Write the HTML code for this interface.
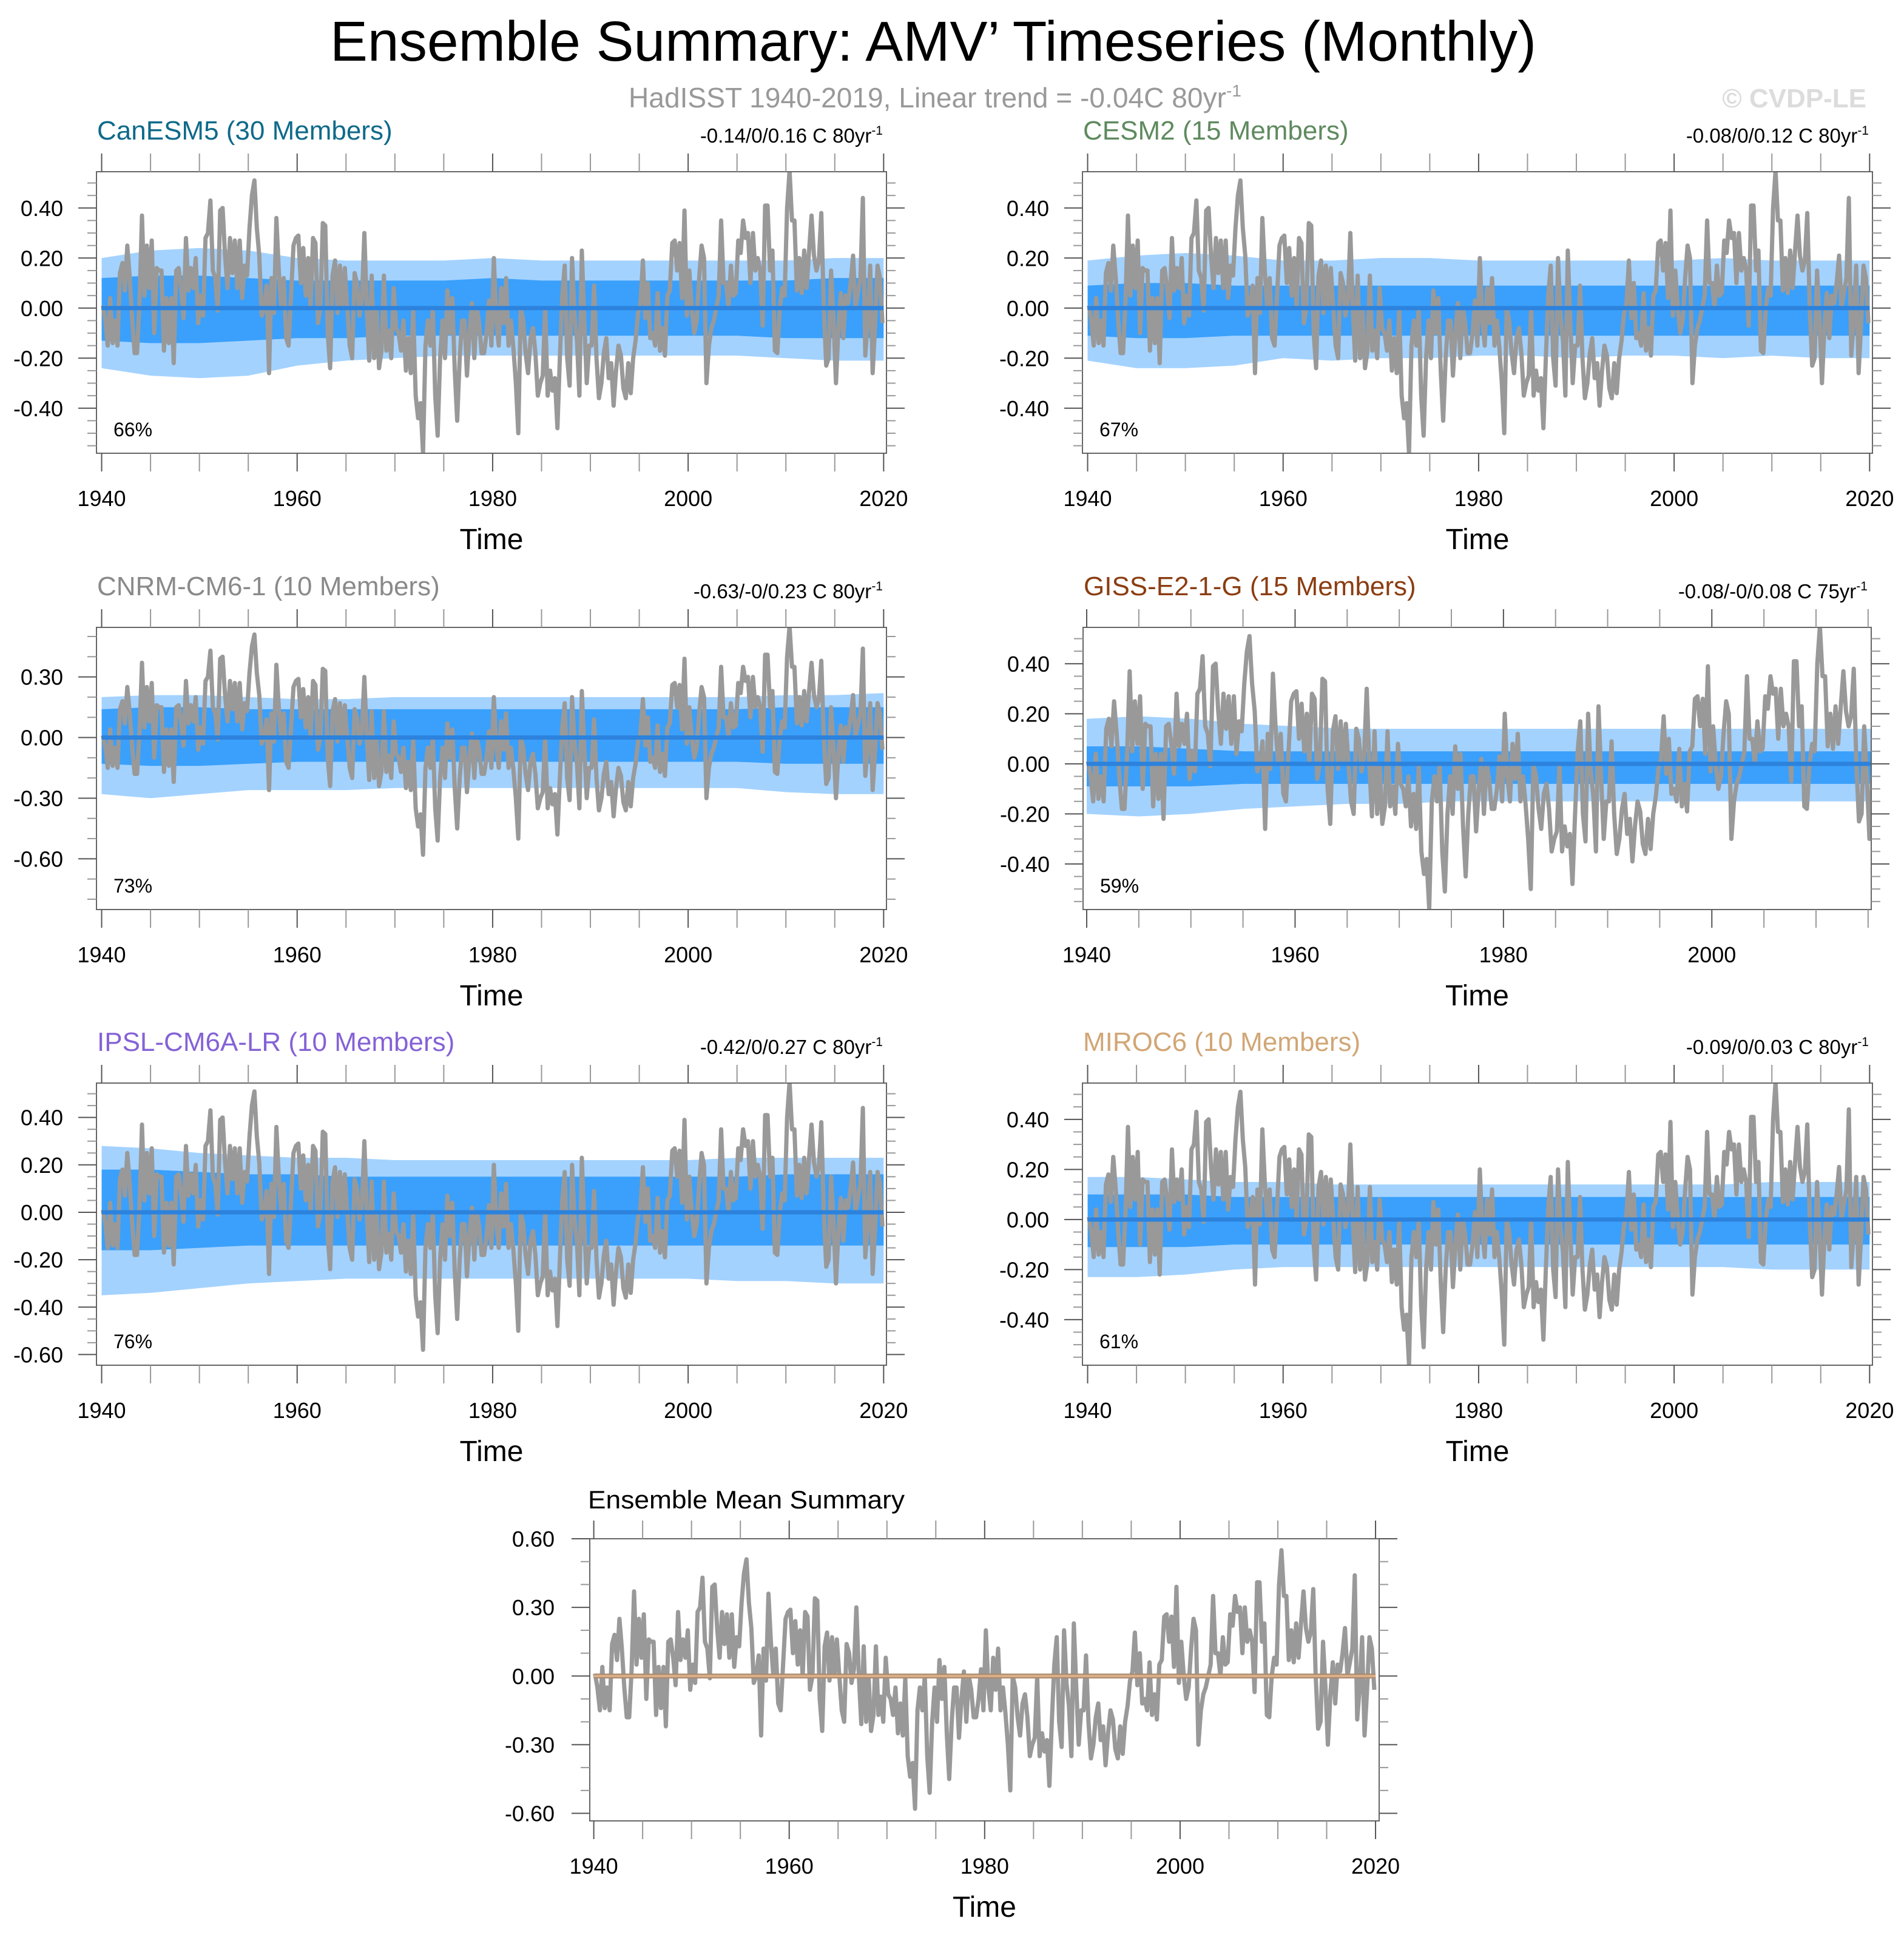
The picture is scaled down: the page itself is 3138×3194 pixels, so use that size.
<!DOCTYPE html>
<html><head><meta charset="utf-8"><title>Ensemble Summary: AMV’ Timeseries (Monthly)</title>
<style>html,body{margin:0;padding:0;background:#fff;}svg{display:block;font-family:"Liberation Sans",sans-serif;}</style>
</head><body>
<svg id="chart" xmlns="http://www.w3.org/2000/svg" width="3138" height="3194" viewBox="0 0 3138 3194">
<rect x="0" y="0" width="3138" height="3194" fill="#fff"/>
<text x="1538" y="100" font-size="93" text-anchor="middle" textLength="1988" lengthAdjust="spacingAndGlyphs">Ensemble Summary: AMV’ Timeseries (Monthly)</text>
<text x="1036" y="177" font-size="46" fill="#999"><tspan textLength="985" lengthAdjust="spacingAndGlyphs">HadISST 1940-2019, Linear trend = -0.04C 80yr</tspan><tspan dy="-18" font-size="28">-1</tspan></text>
<text x="3076" y="177" font-size="44" font-weight="bold" fill="#dcdcdc" text-anchor="end">© CVDP-LE</text>
</svg>
<script>
// ---- data ----
const yearTicks = [1940, 1960, 1980, 2000, 2020];
const bandYears = [1940,1945,1950,1955,1960,1965,1970,1975,1980,1985,1990,1995,2000,2005,2010,2015,2020];
// HadISST AMV monthly (read quarterly), starting 1940
const hadValues = [
0.01,-0.05,-0.15,0.04, -0.14,-0.05,-0.15,0.14, 0.18,0.07,0.25,0.12, -0.05,-0.18,-0.18,0.03,
0.37,0.05,0.25,0.08, 0.27,-0.10,0.16,0.15, 0.15,-0.17,0.04,-0.14, 0.04,-0.22,0.15,0.16,
0.08,-0.04,0.28,0.07, 0.16,0.08,0.20,-0.06, 0.05,-0.03,0.28,0.30, 0.43,0.15,0.12,-0.01,
0.39,0.40,0.21,0.08, 0.28,0.14,0.27,0.08, 0.27,0.04,0.17,0.13, 0.32,0.45,0.51,0.32,
0.21,-0.03,0.00,0.09, -0.26,0.12,-0.02,0.36, 0.15,0.00,0.12,-0.12, -0.15,0.05,0.25,0.28,
0.29,0.10,0.24,0.05, 0.20,0.00,0.28,0.26, -0.06,0.00,0.34,0.33, -0.10,-0.24,0.13,0.19,
-0.02,0.17,0.00,0.16, 0.00,-0.15,-0.20,0.14, 0.10,-0.03,0.03,0.30, 0.00,-0.21,0.13,-0.20,
0.00,-0.24,-0.17,0.13, -0.17,-0.09,-0.20,0.08, -0.08,-0.10,-0.17,-0.05, -0.25,-0.12,-0.26,-0.01,
-0.35,-0.44,-0.38,-0.58, -0.15,-0.05,-0.15,0.00, -0.35,-0.51,-0.20,-0.05, -0.20,0.07,-0.10,0.04,
-0.25,-0.45,-0.20,-0.05, -0.05,-0.27,-0.10,0.02, -0.20,0.00,-0.06,-0.18, -0.18,-0.10,0.03,-0.15,
0.20,-0.05,-0.15,0.08, -0.06,0.12,-0.15,-0.05, -0.16,-0.30,-0.50,0.00, -0.05,-0.18,-0.26,-0.12,
-0.08,-0.18,-0.35,-0.30, -0.27,0.00,-0.35,-0.25, -0.33,-0.28,-0.48,-0.20, 0.05,0.17,-0.20,-0.31,
0.20,-0.03,-0.13,-0.35, 0.23,-0.05,-0.30,-0.15, -0.15,0.09,-0.20,-0.36, -0.30,-0.18,-0.12,-0.28,
-0.22,-0.39,-0.25,-0.15, -0.19,-0.32,-0.36,-0.22, -0.34,-0.20,-0.13,-0.02, 0.02,0.19,-0.04,0.10,
-0.12,-0.10,-0.15,0.06, -0.17,-0.08,-0.19,0.05, 0.07,0.26,0.27,0.15, 0.26,0.04,0.39,-0.03,
0.15,0.00,-0.10,-0.05, 0.12,0.25,0.20,-0.30, -0.15,-0.08,-0.05,0.00, 0.05,0.35,0.10,0.10,
0.00,0.17,0.05,0.06, 0.27,0.22,0.35,0.28, 0.30,0.10,0.30,0.15, 0.20,0.15,-0.07,0.41,
0.41,0.15,0.23,-0.17, -0.18,0.00,0.08,0.05, 0.40,0.55,0.35,0.35, 0.07,0.20,0.06,0.23,
0.08,0.23,0.37,0.21, 0.15,0.19,0.38,0.00, -0.23,-0.20,0.15,-0.05, -0.30,-0.08,0.06,-0.12,
0.05,0.02,0.10,0.21, 0.00,0.06,0.12,0.44, -0.19,-0.05,0.17,-0.26, -0.07,0.17,0.12,-0.06];

// ensemble spread bands (5-year resolution)
const canLightHi = [0.20,0.23,0.24,0.23,0.20,0.19,0.19,0.19,0.20,0.19,0.19,0.19,0.19,0.19,0.19,0.20,0.20];
const canLightLo = [-0.24,-0.27,-0.28,-0.27,-0.23,-0.21,-0.20,-0.19,-0.19,-0.19,-0.19,-0.19,-0.19,-0.19,-0.20,-0.21,-0.21];
const canDarkHi = [0.12,0.13,0.13,0.12,0.11,0.11,0.11,0.11,0.12,0.11,0.11,0.11,0.11,0.11,0.11,0.12,0.12];
const canDarkLo = [-0.13,-0.14,-0.14,-0.13,-0.12,-0.12,-0.11,-0.11,-0.11,-0.11,-0.11,-0.11,-0.11,-0.11,-0.12,-0.12,-0.12];
const cesLightHi = [0.19,0.21,0.22,0.21,0.19,0.19,0.20,0.20,0.19,0.19,0.19,0.19,0.19,0.20,0.19,0.19,0.19];
const cesLightLo = [-0.21,-0.24,-0.24,-0.23,-0.20,-0.21,-0.20,-0.20,-0.19,-0.19,-0.20,-0.19,-0.19,-0.20,-0.19,-0.20,-0.20];
const cesDarkHi = [0.09,0.10,0.10,0.09,0.09,0.09,0.09,0.09,0.09,0.09,0.09,0.09,0.09,0.09,0.09,0.09,0.09];
const cesDarkLo = [-0.11,-0.12,-0.12,-0.11,-0.11,-0.11,-0.11,-0.11,-0.11,-0.11,-0.11,-0.11,-0.11,-0.11,-0.11,-0.11,-0.11];
const cnrmLightHi = [0.20,0.21,0.21,0.20,0.19,0.19,0.20,0.20,0.20,0.20,0.20,0.20,0.20,0.20,0.21,0.21,0.22];
const cnrmLightLo = [-0.28,-0.30,-0.28,-0.26,-0.26,-0.26,-0.25,-0.25,-0.25,-0.25,-0.25,-0.25,-0.25,-0.25,-0.27,-0.28,-0.28];
const cnrmDarkHi = [0.14,0.15,0.15,0.14,0.14,0.14,0.14,0.14,0.14,0.14,0.14,0.14,0.14,0.14,0.15,0.15,0.15];
const cnrmDarkLo = [-0.13,-0.14,-0.14,-0.13,-0.12,-0.12,-0.12,-0.12,-0.12,-0.12,-0.12,-0.12,-0.12,-0.12,-0.13,-0.13,-0.13];
const gissLightHi = [0.18,0.19,0.18,0.16,0.15,0.14,0.14,0.14,0.14,0.14,0.14,0.14,0.14,0.14,0.14,0.14,0.14];
const gissLightLo = [-0.20,-0.21,-0.20,-0.18,-0.17,-0.16,-0.16,-0.15,-0.15,-0.15,-0.15,-0.15,-0.15,-0.15,-0.15,-0.15,-0.15];
const gissDarkHi = [0.07,0.07,0.06,0.05,0.05,0.05,0.05,0.05,0.05,0.05,0.05,0.05,0.05,0.05,0.05,0.05,0.05];
const gissDarkLo = [-0.09,-0.09,-0.09,-0.08,-0.08,-0.08,-0.08,-0.08,-0.08,-0.08,-0.08,-0.08,-0.08,-0.08,-0.08,-0.08,-0.08];
const ipslLightHi = [0.28,0.27,0.25,0.24,0.23,0.23,0.22,0.22,0.22,0.22,0.22,0.22,0.22,0.23,0.23,0.23,0.23];
const ipslLightLo = [-0.35,-0.34,-0.32,-0.30,-0.29,-0.28,-0.28,-0.28,-0.28,-0.28,-0.28,-0.28,-0.28,-0.29,-0.29,-0.30,-0.30];
const ipslDarkHi = [0.18,0.18,0.17,0.16,0.16,0.15,0.15,0.15,0.15,0.15,0.15,0.15,0.15,0.15,0.16,0.16,0.16];
const ipslDarkLo = [-0.16,-0.16,-0.15,-0.14,-0.14,-0.14,-0.14,-0.14,-0.14,-0.14,-0.14,-0.14,-0.14,-0.14,-0.14,-0.14,-0.14];
const mirLightHi = [0.17,0.17,0.16,0.15,0.15,0.14,0.14,0.14,0.14,0.14,0.14,0.14,0.14,0.14,0.15,0.15,0.15];
const mirLightLo = [-0.23,-0.23,-0.22,-0.20,-0.19,-0.19,-0.19,-0.19,-0.19,-0.19,-0.19,-0.19,-0.19,-0.19,-0.20,-0.20,-0.20];
const mirDarkHi = [0.10,0.10,0.10,0.09,0.09,0.09,0.09,0.09,0.09,0.09,0.09,0.09,0.09,0.09,0.09,0.09,0.09];
const mirDarkLo = [-0.11,-0.11,-0.11,-0.10,-0.10,-0.10,-0.10,-0.10,-0.10,-0.10,-0.10,-0.10,-0.10,-0.10,-0.10,-0.10,-0.10];

const yTicks02 = [0.4, 0.2, 0, -0.2, -0.4];
const yTicksCnrm = [0.3, 0, -0.3, -0.6];
const yTicksIpsl = [0.4, 0.2, 0, -0.2, -0.4, -0.6];
const yTicksMean = [0.6, 0.3, 0, -0.3, -0.6];
const panelTitles = ["CanESM5 (30 Members)","CESM2 (15 Members)","CNRM-CM6-1 (10 Members)","GISS-E2-1-G (15 Members)","IPSL-CM6A-LR (10 Members)","MIROC6 (10 Members)"];
const trendTexts = ["-0.14/0/0.16 C 80yr","-0.08/0/0.12 C 80yr","-0.63/-0/0.23 C 80yr","-0.08/-0/0.08 C 75yr","-0.42/0/0.27 C 80yr","-0.09/0/0.03 C 80yr"];
const pctTexts = ["66%","67%","73%","59%","76%","61%"];

// ---- drawing ----
const NS = "http://www.w3.org/2000/svg";
const svg = document.getElementById('chart');
function mk(tag, parent, attrs) {
  const e = document.createElementNS(NS, tag);
  for (const k in attrs) e.setAttribute(k, attrs[k]);
  parent.appendChild(e);
  return e;
}
const defs = mk('defs', svg, {});

const panels = [
  {id:'canesm5', x0:159, y0:283, w:1302, h:464, xmin:1939.47, xmax:2020.29, ymin:-0.58, ymax:0.545, yt:yTicks02, minor:0.05, color:'#0f6a8a', bands:[canLightHi,canLightLo,canDarkHi,canDarkLo]},
  {id:'cesm2', x0:1784, y0:283, w:1302, h:464, xmin:1939.47, xmax:2020.29, ymin:-0.58, ymax:0.545, yt:yTicks02, minor:0.05, color:'#5f8a5f', bands:[cesLightHi,cesLightLo,cesDarkHi,cesDarkLo]},
  {id:'cnrm-cm6-1', x0:159, y0:1034, w:1302, h:465, xmin:1939.47, xmax:2020.29, ymin:-0.851, ymax:0.545, yt:yTicksCnrm, minor:0.1, color:'#8a8a8a', bands:[cnrmLightHi,cnrmLightLo,cnrmDarkHi,cnrmDarkLo]},
  {id:'giss-e2-1-g', x0:1785, y0:1034, w:1299, h:465, xmin:1939.65, xmax:2015.3, ymin:-0.582, ymax:0.545, yt:yTicks02, minor:0.05, color:'#8b3d12', bands:[gissLightHi,gissLightLo,gissDarkHi,gissDarkLo]},
  {id:'ipsl-cm6a-lr', x0:159, y0:1785, w:1302, h:465, xmin:1939.47, xmax:2020.29, ymin:-0.645, ymax:0.545, yt:yTicksIpsl, minor:0.05, color:'#8562d6', bands:[ipslLightHi,ipslLightLo,ipslDarkHi,ipslDarkLo]},
  {id:'miroc6', x0:1784, y0:1785, w:1302, h:465, xmin:1939.47, xmax:2020.29, ymin:-0.582, ymax:0.545, yt:yTicks02, minor:0.05, color:'#d1a676', bands:[mirLightHi,mirLightLo,mirDarkHi,mirDarkLo]},
  {id:'ensemble-mean', x0:972, y0:2536, w:1301, h:465, xmin:1939.59, xmax:2020.37, ymin:-0.633, ymax:0.6, yt:yTicksMean, minor:0.1, mean:true}
];

panels.forEach((p, idx) => {
  const g = mk('g', svg, {});
  
  
  const sx = t => p.x0 + (t - p.xmin) / (p.xmax - p.xmin) * p.w;
  const sy = v => p.y0 + (p.ymax - v) / (p.ymax - p.ymin) * p.h;
  const x1 = p.x0 + p.w, y1 = p.y0 + p.h;

  const cp = mk('clipPath', defs, {id: 'clip' + idx});
  mk('rect', cp, {x:p.x0, y:p.y0, width:p.w, height:p.h});
  const plot = mk('g', g, {'clip-path': 'url(#clip' + idx + ')'});
  
  

  if (!p.mean) {
    const [lh, ll, dh, dl] = p.bands;
    const bandPts = (hi, lo) => {
      const a = [];
      bandYears.forEach((yr, i) => a.push(sx(yr).toFixed(1) + ',' + sy(hi[i]).toFixed(1)));
      for (let i = bandYears.length - 1; i >= 0; i--) a.push(sx(bandYears[i]).toFixed(1) + ',' + sy(lo[i]).toFixed(1));
      return a.join(' ');
    };
    const light = mk('polygon', plot, {points: bandPts(lh, ll), fill: '#a3d2ff'});
    
    
    const dark = mk('polygon', plot, {points: bandPts(dh, dl), fill: '#3aa0fb'});
    
    
  }

  const pts = hadValues.map((v, i) => sx(1940 + i * 0.25 + 0.125).toFixed(1) + ',' + sy(v).toFixed(1)).join(' ');
  const obs = mk('polyline', plot, {points: pts, fill: 'none', stroke: '#999999', 'stroke-width': 7, 'stroke-linejoin': 'round'});
  
  

  const zx2 = sx(Math.min(2020, p.xmax));
  if (p.mean) {
    const z0 = mk('line', plot, {x1: sx(1940), x2: zx2, y1: sy(0), y2: sy(0), stroke: '#a9876a', 'stroke-width': 8});
    
    
    const z1 = mk('line', plot, {x1: sx(1940), x2: zx2, y1: sy(0), y2: sy(0), stroke: '#d9b08a', 'stroke-width': 4});
    
    
  } else {
    const z = mk('line', plot, {x1: sx(1940), x2: zx2, y1: sy(0), y2: sy(0), stroke: '#2c82dc', 'stroke-width': 7});
    
    
  }

  const frame = mk('rect', g, {x: p.x0, y: p.y0, width: p.w, height: p.h, fill: 'none', stroke: '#666', 'stroke-width': 2});
  
  

  // x ticks
  for (let yr = 1940; yr <= p.xmax; yr += 5) {
    const major = yr % 20 === 0;
    const x = sx(yr);
    const tc = major ? '#555' : '#999';
    const t1 = mk('line', g, {x1: x, x2: x, y1: p.y0 - 30, y2: p.y0, stroke: tc, 'stroke-width': 2});
    
    
    const t2 = mk('line', g, {x1: x, x2: x, y1: y1, y2: y1 + 30, stroke: tc, 'stroke-width': 2});
    
    
  }
  yearTicks.forEach(yr => {
    if (yr > p.xmax) return;
    const t = mk('text', g, {x: sx(yr), y: y1 + 87, 'font-size': 36, 'text-anchor': 'middle'});
    t.textContent = yr;
    
    
  });
  const xt = mk('text', g, {x: p.x0 + p.w / 2, y: y1 + 158, 'font-size': 48, 'text-anchor': 'middle'});
  xt.textContent = 'Time';
  
  

  // y ticks
  const nMin = Math.ceil(p.ymin / p.minor - 1e-6), nMax = Math.floor(p.ymax / p.minor + 1e-6);
  for (let n = nMin; n <= nMax; n++) {
    const v = n * p.minor, y = sy(v);
    const major = p.yt.some(t => Math.abs(t - v) < 1e-6);
    const len = major ? 30 : 15;
    const tc = major ? '#555' : '#999';
    const a = mk('line', g, {x1: p.x0 - len, x2: p.x0, y1: y, y2: y, stroke: tc, 'stroke-width': 2});
    
    
    const b = mk('line', g, {x1: x1, x2: x1 + len, y1: y, y2: y, stroke: tc, 'stroke-width': 2});
    
    
  }
  p.yt.forEach(v => {
    const t = mk('text', g, {x: p.x0 - (p.mean ? 58 : 55), y: sy(v) + 13, 'font-size': 36, 'text-anchor': 'end'});
    t.textContent = v.toFixed(2);
    
    
  });

  if (p.mean) {
    const tt = mk('text', g, {x: 969, y: 2486, 'font-size': 42, textLength: 522, lengthAdjust: 'spacingAndGlyphs'});
    tt.textContent = 'Ensemble Mean Summary';
    
    
  } else {
    const tt = mk('text', g, {x: p.x0 + 1, y: p.y0 - 53, 'font-size': 44, fill: p.color});
    tt.textContent = panelTitles[idx];
    
    
    const tr = mk('text', g, {x: x1 - 6, y: p.y0 - 48, 'font-size': 33, 'text-anchor': 'end'});
    
    
    const s1 = mk('tspan', tr, {});
    s1.textContent = trendTexts[idx];
    const s2 = mk('tspan', tr, {dy: -13, 'font-size': 21});
    s2.textContent = '-1';
    const pc = mk('text', g, {x: p.x0 + 28, y: y1 - 28, 'font-size': 32});
    pc.textContent = pctTexts[idx];
    
    
  }
});
</script>
</body></html>
